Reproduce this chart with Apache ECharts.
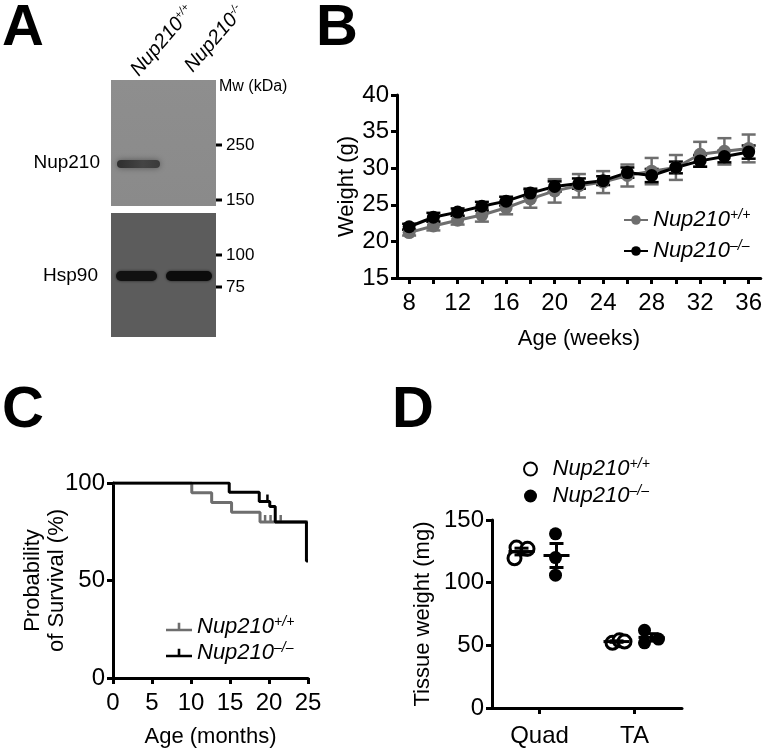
<!DOCTYPE html>
<html><head><meta charset="utf-8">
<script src="https://cdn.jsdelivr.net/npm/echarts@6/dist/echarts.min.js"></script>
<style>html,body{margin:0;padding:0;background:#fff}#c{width:765px;height:755px}</style>
</head><body><div id="c"></div>
<script>
// ---------- Panel B data ----------
const weeks = [8,10,12,14,16,18,20,22,24,26,28,30,32,34,36];
const wtMean = [21.2,22.1,22.9,23.6,24.6,25.8,26.9,27.6,28.1,29.0,29.6,30.1,31.9,32.3,32.7];
const wtSem  = [0.4,0.6,0.6,0.9,0.9,1.2,1.6,1.6,1.5,1.5,1.8,1.7,1.7,1.8,1.9];
const koMean = [22.0,23.3,24.0,24.8,25.5,26.6,27.5,27.9,28.3,29.4,29.0,30.1,31.0,31.6,32.2];
const koSem  = [0.4,0.6,0.5,0.6,0.6,0.6,0.7,0.7,0.6,0.7,0.9,0.8,0.8,0.8,0.9];
const weekTicks  = [8,10,12,14,16,18,20,22,24,26,28,30,32,34,36];
const weekLabels = [8,12,16,20,24,28,32,36];
// ---------- Panel C data ----------
const survMonthsWT = [0,10.1,12.65,15.2,18.85,25];
const survPctWT    = [100,95,90,85,80,80];
const survMonthsKO = [0,14.9,18.75,20.1,20.8,24.8,25];
const survPctKO    = [100,95.2,90.5,88,80,60,60];
const censorMonthsWT = [19.5,20.2,21.5];
const censorPctWT    = [80,80,80];
const censorMonthsKO = [19.8];
const censorPctKO    = [90.5];
// ---------- Panel D data ----------
const tissues = ['Quad','TA'];
const quadWT = [128,127,119.5];
const quadKO = [139,120,106];
const taWT   = [52,54,53];
const taKO   = [62,52,55];
// ---------- Panel A text ----------
const mwLabels = ['250','150','100','75'];

const FONT = '"Liberation Sans", Arial, sans-serif';
const GRAY = '#6e6e6e';
const BLACK = '#000';

function mean(a){return a.reduce((s,v)=>s+v,0)/a.length;}
function sem(a){const m=mean(a);const v=a.reduce((s,x)=>s+(x-m)*(x-m),0)/(a.length-1);return Math.sqrt(v/a.length);}

const supRich = {
  i:{fontFamily:FONT,fontSize:22,fontStyle:'italic',color:'#000',lineHeight:24},
  s:{fontFamily:FONT,fontSize:14,fontStyle:'italic',color:'#000',lineHeight:12,verticalAlign:'top'}
};
const legendNames = {B_WT:'+/+',B_KO:'–/–',C_WT:'+/+',C_KO:'–/–',D_WT:'+/+',D_KO:'–/–'};
const legendFmt = n => '{i|Nup210}{s|' + legendNames[n] + '}';

function axisCommon(){
  return {
    nameMoveOverlap:false,
    axisLine:{show:true,lineStyle:{color:'#000',width:3}},
    axisTick:{show:true,length:6,inside:false,lineStyle:{color:'#000',width:3}},
    axisLabel:{color:'#000',fontFamily:FONT,fontSize:24},
    splitLine:{show:false},
    nameTextStyle:{color:'#000',fontFamily:FONT,fontSize:22}
  };
}

function errB(name, means, sems, color){
  return {
    type:'custom', name:name, xAxisIndex:0, yAxisIndex:0,
    data: weeks.map((w,i)=>[w, means[i], sems[i]]),
    encode:{x:0,y:1},
    renderItem:(p, api)=>{
      const x = api.value(0), m = api.value(1), s = api.value(2);
      const t = api.coord([x, m+s]), b = api.coord([x, m-s]);
      const st = {stroke:color,lineWidth:2.5};
      return {type:'group',children:[
        {type:'line',shape:{x1:t[0],y1:t[1],x2:b[0],y2:b[1]},style:st},
        {type:'line',shape:{x1:t[0]-7,y1:t[1],x2:t[0]+7,y2:t[1]},style:st},
        {type:'line',shape:{x1:b[0]-7,y1:b[1],x2:b[0]+7,y2:b[1]},style:st}
      ]};
    }
  };
}

function meanSemD(vals, off){
  return {
    type:'custom', xAxisIndex:2, yAxisIndex:2, z:5,
    data: vals.map((v,i)=>[i, mean(v), sem(v)]),
    encode:{x:0,y:1},
    renderItem:(p, api)=>{
      const c = api.coord([api.value(0), api.value(1)]);
      const t = api.coord([api.value(0), api.value(1)+api.value(2)]);
      const b = api.coord([api.value(0), api.value(1)-api.value(2)]);
      const x = c[0]+off;
      const st = {stroke:'#000',lineWidth:3};
      return {type:'group',children:[
        {type:'line',shape:{x1:x-13,y1:c[1],x2:x+13,y2:c[1]},style:st},
        {type:'line',shape:{x1:x,y1:t[1],x2:x,y2:b[1]},style:st},
        {type:'line',shape:{x1:x-7,y1:t[1],x2:x+7,y2:t[1]},style:st},
        {type:'line',shape:{x1:x-7,y1:b[1],x2:x+7,y2:b[1]},style:st}
      ]};
    }
  };
}

const jitterWT = [[-23,-12,-25],[-22,-15,-10]];
const jitterKO = [[16,16,16],[10,10,24]];
function scatterD(name, groups, jit, style){
  const data = [];
  groups.forEach((g,ci)=>g.forEach((v,k)=>data.push({value:[ci,v],symbolOffset:[jit[ci][k],0]})));
  return {type:'scatter',name:name,xAxisIndex:2,yAxisIndex:2,symbol:'circle',symbolSize:13,itemStyle:style,data:data,z:4};
}

// ---------- Panel A (western blot drawing) ----------
const blot = [
  {type:'rect',shape:{x:111,y:80,width:105,height:126},style:{fill:new echarts.graphic.LinearGradient(0,0,0,1,[{offset:0,color:'#8e8e8e'},{offset:1,color:'#8a8a8a'}])}},
  {type:'rect',shape:{x:117,y:160,width:43,height:8,r:4},style:{fill:new echarts.graphic.LinearGradient(0,0,1,0,[{offset:0,color:'#2e2e2e'},{offset:0.6,color:'#444'},{offset:1,color:'#3a3a3a'}]),shadowBlur:6,shadowColor:'#555'}},
  {type:'rect',shape:{x:111,y:213,width:105,height:124},style:{fill:'#5c5c5c'}},
  {type:'rect',shape:{x:116,y:271,width:41,height:10,r:5},style:{fill:'#111',shadowBlur:3,shadowColor:'#222'}},
  {type:'rect',shape:{x:166,y:271,width:46,height:10,r:5},style:{fill:'#0c0c0c',shadowBlur:3,shadowColor:'#222'}}
];
const mwY = [145,200,255,287];
mwLabels.forEach((t,i)=>{
  blot.push({type:'rect',shape:{x:216,y:mwY[i]-1.5,width:6,height:3},style:{fill:'#000'}});
  blot.push({type:'text',x:226,y:mwY[i],style:{text:t,font:'17px '+FONT,fill:'#000',verticalAlign:'middle',align:'left'}});
});
blot.push({type:'text',x:219,y:87,style:{text:'Mw (kDa)',font:'16px '+FONT,fill:'#000',verticalAlign:'middle',align:'left'}});
blot.push({type:'text',x:100,y:163,style:{text:'Nup210',font:'19px '+FONT,fill:'#000',verticalAlign:'middle',align:'right'}});
blot.push({type:'text',x:98,y:276,style:{text:'Hsp90',font:'19px '+FONT,fill:'#000',verticalAlign:'middle',align:'right'}});
const laneRich = {
  i:{fontFamily:FONT,fontSize:20,fontStyle:'italic',fill:'#000',lineHeight:20},
  s:{fontFamily:FONT,fontSize:11,fontStyle:'italic',fill:'#000',lineHeight:10,verticalAlign:'top'}
};
blot.push({type:'text',x:142,y:80,rotation:0.86,style:{text:'{i|Nup210}{s|+/+}',rich:laneRich,align:'left',verticalAlign:'bottom'}});
blot.push({type:'text',x:196,y:76,rotation:0.86,style:{text:'{i|Nup210}{s|-/-}',rich:laneRich,align:'left',verticalAlign:'bottom'}});

const letters = [['A',2,0],['B',316,0],['C',2,382],['D',392,382]].map(l=>({
  type:'text',x:l[1],y:l[2],style:{text:l[0],font:'bold 58px '+FONT,fill:'#000',verticalAlign:'top',align:'left'}
}));

const option = {
  animation:false,
  backgroundColor:'#fff',
  graphic: blot.concat(letters),
  grid:[
    {left:397,top:95,width:366,height:183},
    {left:113,top:483,width:195,height:195},
    {left:492,top:520,width:190,height:188}
  ],
  legend:[
    {data:['B_WT','B_KO'],orient:'vertical',left:618,top:203,itemGap:8,itemWidth:24,itemHeight:12,formatter:legendFmt,textStyle:{rich:supRich},selectedMode:false},
    {data:[{name:'C_WT',icon:'path://M0,7H30V10H0Z M13.5,0H16.5V7H13.5Z'},{name:'C_KO',icon:'path://M0,7H30V10H0Z M13.5,0H16.5V7H13.5Z'}],orient:'vertical',left:161,top:610,itemGap:3,itemWidth:26,itemHeight:10,formatter:legendFmt,textStyle:{rich:supRich},selectedMode:false},
    {data:['D_WT','D_KO'],orient:'vertical',left:518,top:452,itemGap:4,itemWidth:34,itemHeight:13,formatter:legendFmt,textStyle:{rich:supRich},selectedMode:false}
  ],
  xAxis:[
    Object.assign(axisCommon(),{gridIndex:0,type:'value',min:7,max:37,name:'Age (weeks)',nameLocation:'middle',nameGap:50}),
    Object.assign(axisCommon(),{gridIndex:1,type:'value',min:0,max:25,interval:5,name:'Age (months)',nameLocation:'middle',nameGap:48}),
    Object.assign(axisCommon(),{gridIndex:2,type:'category',data:tissues})
  ],
  yAxis:[
    Object.assign(axisCommon(),{gridIndex:0,type:'value',min:15,max:40,interval:5,name:'Weight (g)',nameLocation:'middle',nameGap:38}),
    Object.assign(axisCommon(),{gridIndex:1,type:'value',min:0,max:100,interval:50,name:'Probability\nof Survival (%)',nameLocation:'middle',nameGap:44}),
    Object.assign(axisCommon(),{gridIndex:2,type:'value',min:0,max:150,interval:50,name:'Tissue weight (mg)',nameLocation:'middle',nameGap:57})
  ],
  series:[]
};
option.xAxis[0].axisTick.customValues = weekTicks;
option.xAxis[0].axisLabel = Object.assign({}, option.xAxis[0].axisLabel, {customValues:weekLabels, margin:13});
option.xAxis[1].axisLabel.margin = 13;
option.xAxis[2].axisTick.alignWithLabel = true;
option.xAxis[2].axisLabel.margin = 16;
option.yAxis.forEach(a=>{a.axisLabel.margin = 8; a.nameTextStyle.lineHeight = 24;});

option.series = [
  errB('B_WT_err', wtMean, wtSem, GRAY),
  {type:'line',name:'B_WT',xAxisIndex:0,yAxisIndex:0,data:weeks.map((w,i)=>[w,wtMean[i]]),symbol:'circle',symbolSize:13,showSymbol:true,
   lineStyle:{color:GRAY,width:3},itemStyle:{color:GRAY,opacity:1}},
  errB('B_KO_err', koMean, koSem, BLACK),
  {type:'line',name:'B_KO',xAxisIndex:0,yAxisIndex:0,data:weeks.map((w,i)=>[w,koMean[i]]),symbol:'circle',symbolSize:13,showSymbol:true,
   lineStyle:{color:BLACK,width:3},itemStyle:{color:BLACK,opacity:1}},
  {type:'line',name:'C_WT',xAxisIndex:1,yAxisIndex:1,step:'end',symbol:'none',data:survMonthsWT.map((m,i)=>[m,survPctWT[i]]),
   lineStyle:{color:GRAY,width:3},itemStyle:{color:GRAY}},
  {type:'line',name:'C_KO',xAxisIndex:1,yAxisIndex:1,step:'end',symbol:'none',data:survMonthsKO.map((m,i)=>[m,survPctKO[i]]),
   lineStyle:{color:BLACK,width:3},itemStyle:{color:BLACK}},
  {type:'scatter',name:'C_WT_c',xAxisIndex:1,yAxisIndex:1,symbol:'rect',symbolSize:[2.5,7],symbolOffset:[0,-3.5],
   data:censorMonthsWT.map((m,i)=>[m,censorPctWT[i]]),itemStyle:{color:GRAY,opacity:1}},
  {type:'scatter',name:'C_KO_c',xAxisIndex:1,yAxisIndex:1,symbol:'rect',symbolSize:[2.5,7],symbolOffset:[0,-3.5],
   data:censorMonthsKO.map((m,i)=>[m,censorPctKO[i]]),itemStyle:{color:BLACK,opacity:1}},
  scatterD('D_WT',[quadWT,taWT],jitterWT,{color:'#fff',borderColor:'#000',borderWidth:3,opacity:1}),
  scatterD('D_KO',[quadKO,taKO],jitterKO,{color:'#000',opacity:1}),
  meanSemD([quadWT,taWT],-18),
  meanSemD([quadKO,taKO],17)
];

const chart = echarts.init(document.getElementById('c'),null,{renderer:'canvas'});
chart.setOption(option);
</script>
</body></html>
